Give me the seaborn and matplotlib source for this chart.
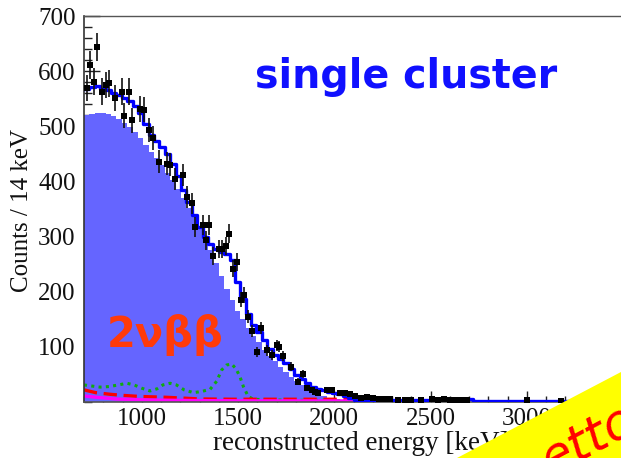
import numpy as np
import pandas as pd
import matplotlib
matplotlib.use("Agg")
import matplotlib.pyplot as plt
import seaborn as sns
from matplotlib.patches import Polygon
from matplotlib.ticker import MultipleLocator, FixedLocator, NullFormatter

# ---------------- data ----------------
# 2vbb component (filled), 28 keV wide bins from 700 to 2100 keV
fill_edges = list(range(700, 2101, 28))
fill_vals = [520, 523, 525, 525, 523, 519, 513, 506, 498, 489,
             478, 466, 454, 442, 430, 416, 402, 386, 370, 352,
             335, 317, 298, 275, 252, 228, 205, 185, 165, 150,
             135, 120, 108, 95, 84, 74, 64, 55, 46, 38,
             31, 25, 20, 15, 11, 8, 5, 3, 2, 1]

# total fit (blue step line)
fit_edges = list(range(700, 2101, 28)) + [2500, 2720, 3500]
fit_vals = [568, 572, 573, 568, 565, 561, 556, 551, 545, 536,
            525, 505, 485, 473, 462, 450, 432, 410, 385, 362,
            340, 318, 300, 287, 277, 272, 269, 258, 218, 186,
            160, 140, 127, 112, 96, 86, 78, 70, 60, 49,
            42, 35, 27, 23, 21, 19, 17, 14, 11, 8,
            3, 5, 2]

# measured data points
data_e = [714, 731, 754, 769, 792, 814, 831, 861, 896, 909, 935, 951, 991, 1013,
          1040, 1057, 1091, 1130, 1147, 1173, 1216, 1234, 1259, 1277, 1317, 1334,
          1351, 1372, 1403, 1415, 1438, 1455, 1476, 1493, 1514, 1533, 1553, 1571,
          1597, 1618, 1652, 1675, 1701, 1715, 1735, 1774, 1813, 1839, 1857, 1883,
          1900, 1917, 1961, 1986, 2030, 2056, 2080, 2110, 2140, 2170, 2200, 2230,
          2260, 2290, 2330, 2370, 2400, 2450, 2510, 2540, 2570, 2600, 2630, 2660,
          2690, 3000, 3180]
data_c = [569, 611, 581, 644, 563, 575, 578, 551, 563, 519, 563, 511, 531, 530,
          493, 478, 436, 432, 430, 405, 412, 372, 360, 317, 321, 293,
          321, 264, 277, 277, 283, 305, 242, 254, 185, 194, 155, 129,
          91, 134, 94, 85, 103, 100, 84, 64, 37, 51, 25, 22,
          19, 17, 22, 22, 17, 16, 14, 10, 8, 9, 7, 6,
          5, 5, 4, 4, 3, 3, 6, 4, 5, 4, 4, 3,
          3, 3, 2]

# background components
green_e = [700, 740, 783, 830, 880, 922, 960, 1000, 1043, 1080, 1110, 1147, 1180,
           1220, 1268, 1310, 1355, 1390, 1415, 1440, 1467, 1490, 1510, 1528, 1553,
           1580, 1650, 1800, 1950, 2050]
green_c = [31, 29, 27, 28, 31, 34, 31, 25, 20, 24, 31, 34, 31,
           22, 17, 19, 23, 38, 58, 67, 69, 60, 46, 28, 10,
           5, 4, 3, 3, 2]

red_e = [700, 760, 835, 900, 991, 1130, 1303, 1470, 1700, 2000, 2080]
red_c = [22, 17, 14, 12, 10, 8.5, 5.5, 5, 5, 5, 4]

mag_e = [700, 780, 870, 1043, 1300, 1600, 2100]
mag_c = [11, 8, 5.4, 3.6, 2.5, 2, 2]

x_major = [1000, 1500, 2000, 2500, 3000, 3500]
y_major = [100, 200, 300, 400, 500, 600, 700]

# ---------------- styling ----------------
sns.set_style("ticks")
plt.rcParams['font.family'] = ['Liberation Serif', 'DejaVu Serif']

W, H = 621, 458
fig = plt.figure(figsize=(W / 100, H / 100), dpi=100)
L, R, T, B = 84, 623, 16, 402
ax = fig.add_axes([L / W, (H - B) / H, (R - L) / W, (B - T) / H])

fill_centers = [(a + b) / 2 for a, b in zip(fill_edges[:-1], fill_edges[1:])]
fit_centers = [(a + b) / 2 for a, b in zip(fit_edges[:-1], fit_edges[1:])]

sns.histplot(x=fill_centers, weights=fill_vals, bins=fill_edges, element="step",
             fill=True, color="#6565ff", alpha=1, linewidth=0, ax=ax, zorder=1)

sns.lineplot(x=green_e, y=green_c, color="#11aa11", linewidth=2.2,
             linestyle=(0, (1, 1.4)), ax=ax, zorder=2)
sns.lineplot(x=red_e, y=red_c, color="#ff0000", linewidth=2.4,
             linestyle=(0, (4, 2)), ax=ax, zorder=2)
sns.lineplot(x=mag_e, y=mag_c, color="#ff00ff", linewidth=2.4, ax=ax, zorder=2)

sns.histplot(x=fit_centers, weights=fit_vals, bins=fit_edges, element="step",
             fill=False, color="#0000ff", linewidth=2.4, ax=ax, zorder=3)

data_err = np.sqrt(np.array(data_c, dtype=float))
ax.errorbar(data_e, data_c, yerr=data_err, fmt="none", ecolor="#111111",
            elinewidth=1.2, zorder=5)
sns.scatterplot(x=data_e, y=data_c, marker="s", s=22, color="black",
                edgecolor="black", linewidth=0, ax=ax, zorder=6)

ax.set_xlim(700, 3500)
ax.set_ylim(0, 700)
ax.set_xlabel("")
ax.set_ylabel("")

ax.xaxis.set_major_locator(FixedLocator(x_major))
ax.xaxis.set_minor_locator(MultipleLocator(100))
ax.yaxis.set_major_locator(FixedLocator(y_major))
ax.yaxis.set_minor_locator(MultipleLocator(20))
ax.set_xticklabels([str(v) for v in x_major])
ax.set_yticklabels([str(v) for v in y_major])

ax.tick_params(axis="x", which="major", direction="in", length=8, width=1,
               labelsize=18, pad=4, color="#222222")
ax.tick_params(axis="x", which="minor", direction="in", length=4, width=1,
               color="#222222")
ax.tick_params(axis="y", which="major", direction="in", length=11.5, width=1,
               labelsize=18, pad=6, color="#222222")
ax.tick_params(axis="y", which="minor", direction="in", length=6, width=1,
               color="#222222")
for lab in ax.get_xticklabels() + ax.get_yticklabels():
    lab.set_color("#111111")

ax.spines["right"].set_visible(False)
ax.spines["top"].set_color("#555555")
ax.spines["top"].set_linewidth(1.0)
ax.spines["left"].set_color("#333333")
ax.spines["left"].set_linewidth(1.2)
ax.spines["bottom"].set_color("#555555")
ax.spines["bottom"].set_linewidth(1.2)

# axis titles
fig.text(213 / W, (H - 450) / H, "reconstructed energy [keV]", fontsize=19.5,
         ha="left", va="baseline", color="#111111")
fig.text(22 / W, (H - 210) / H, "Counts / 14 keV", fontsize=18, rotation=90,
         ha="center", va="center", color="#111111")

# annotations
fig.text(255 / W, (H - 88) / H, "single cluster", fontsize=28.5,
         fontweight="bold", color="#1010ff", family="DejaVu Sans",
         ha="left", va="baseline")
fig.text(107 / W, (H - 347) / H, "2νββ", fontsize=30, fontweight="bold",
         color="#ff3a0a", family="DejaVu Sans", ha="left", va="baseline",
         zorder=10)

# yellow corner banner
tri = Polygon([[457 / W, 0], [1.0, (H - 372) / H], [1.0, 0]], closed=True,
              transform=fig.transFigure, facecolor="#ffff00", edgecolor="none",
              zorder=20)
fig.patches.append(tri)
fig.text(588 / W, (H - 440) / H, "etto", fontsize=36, color="#ff0000",
         family="DejaVu Sans", style="italic", rotation=28,
         rotation_mode="anchor", ha="center", va="center", zorder=21)

fig.savefig("out.png", dpi=100)
